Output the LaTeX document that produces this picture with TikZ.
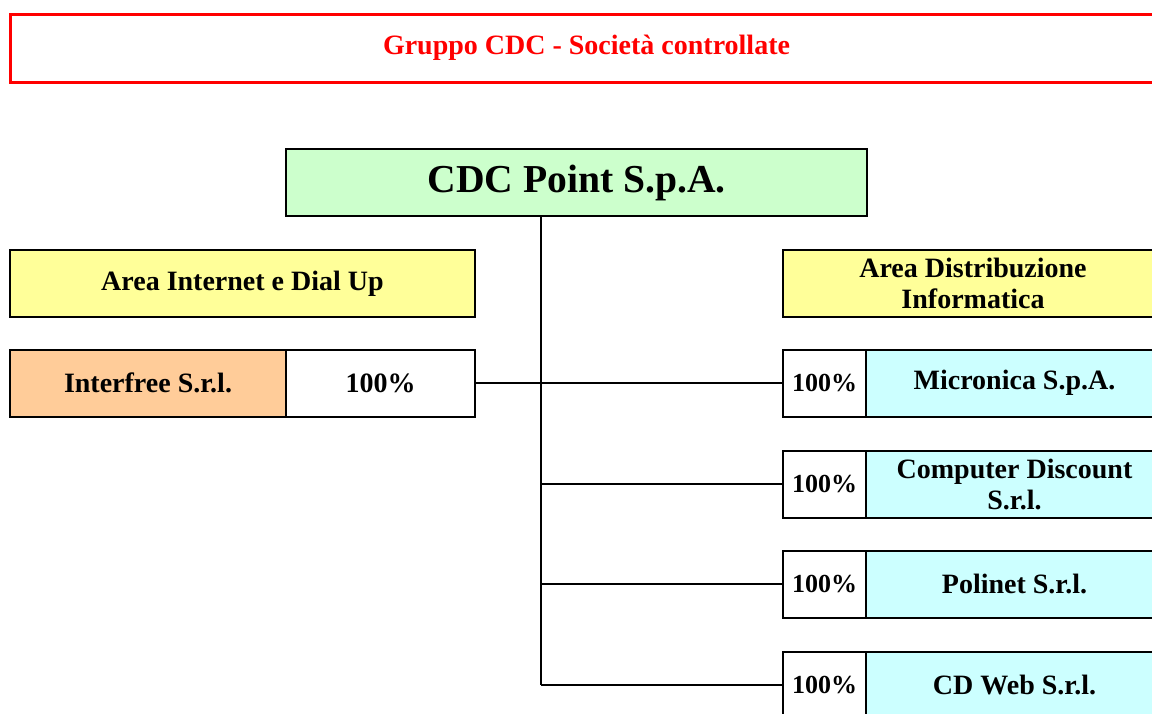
\documentclass[tikz,border=0pt]{standalone}
\usepackage{fontspec}
\setmainfont{Liberation Serif}
\usepackage{tikz}
\pgfdeclarelayer{bg}
\pgfsetlayers{bg,main}

\definecolor{titlered}{HTML}{FF0000}
\definecolor{headgreen}{HTML}{CCFFCC}
\definecolor{areayellow}{HTML}{FFFF99}
\definecolor{netorange}{HTML}{FFCC99}
\definecolor{distcyan}{HTML}{CCFFFF}

\begin{document}
\begin{tikzpicture}[x=0.5pt, y=-0.5pt,
  box/.style={draw, line width=1pt, inner sep=0pt, minimum height=33.5pt, align=center,
    font=\fontsize{14}{15.5}\selectfont\bfseries},
  pct/.style={box, fill=white, minimum width=41.5pt, font=\fontsize{13}{15}\selectfont\bfseries},
  firm/.style={box, fill=distcyan, minimum width=148.5pt}]
  \useasboundingbox (0,0) rectangle (1152,713);
  \clip (0,0) rectangle (1152,713);

  \node (banner) [draw=titlered, line width=1.5pt, minimum width=576.5pt, minimum height=34pt,
    text=titlered, font=\fontsize{14}{16}\selectfont\bfseries] at (586.5, 48) {Gruppo CDC - Società controllate};

  \node (cdc) [box, fill=headgreen, minimum width=290.5pt, font=\fontsize{19.8}{24}\selectfont\bfseries] at (576.5, 182.5) {CDC Point S.p.A.};

    \node (areaL) [box, fill=areayellow, minimum width=232.5pt] at (242.5, 283.5) {Area Internet e Dial Up};
    \node (areaR) [box, fill=areayellow, minimum width=190pt] at (973, 283.5) {Area Distribuzione\\Informatica};

    \node (inter) [box, fill=netorange, minimum width=138pt] at (148, 383) {Interfree S.r.l.};
    \node (interP) [box, fill=white, minimum width=94.5pt] at (380.5, 383) {100\%};

  \node (p1) [pct] at (824.5, 383) {100\%};
  \node (p2) [pct] at (824.5, 484) {100\%};
  \node (p3) [pct] at (824.5, 584) {100\%};
  \node (p4) [pct] at (824.5, 685) {100\%};

  \node (f1) [firm] at (1014.5, 383) {Micronica S.p.A.};
  \node (f2) [firm] at (1014.5, 484) {Computer Discount\\S.r.l.};
  \node (f3) [firm] at (1014.5, 584) {Polinet S.r.l.};
  \node (f4) [firm] at (1014.5, 685) {CD Web S.r.l.};

  \coordinate (trunk) at (541, 300);

  \begin{pgfonlayer}{bg}
	  \draw [line width=1pt] (trunk |- cdc.south) -- (trunk |- p4.west);
	  \draw [line width=1pt] (interP.east) -- (p1.west);
	  \draw [line width=1pt] (trunk |- p2.west) -- (p2.west);
	  \draw [line width=1pt] (trunk |- p3.west) -- (p3.west);
	  \draw [line width=1pt] (trunk |- p4.west) -- (p4.west);
  \end{pgfonlayer}
\end{tikzpicture}
\end{document}
